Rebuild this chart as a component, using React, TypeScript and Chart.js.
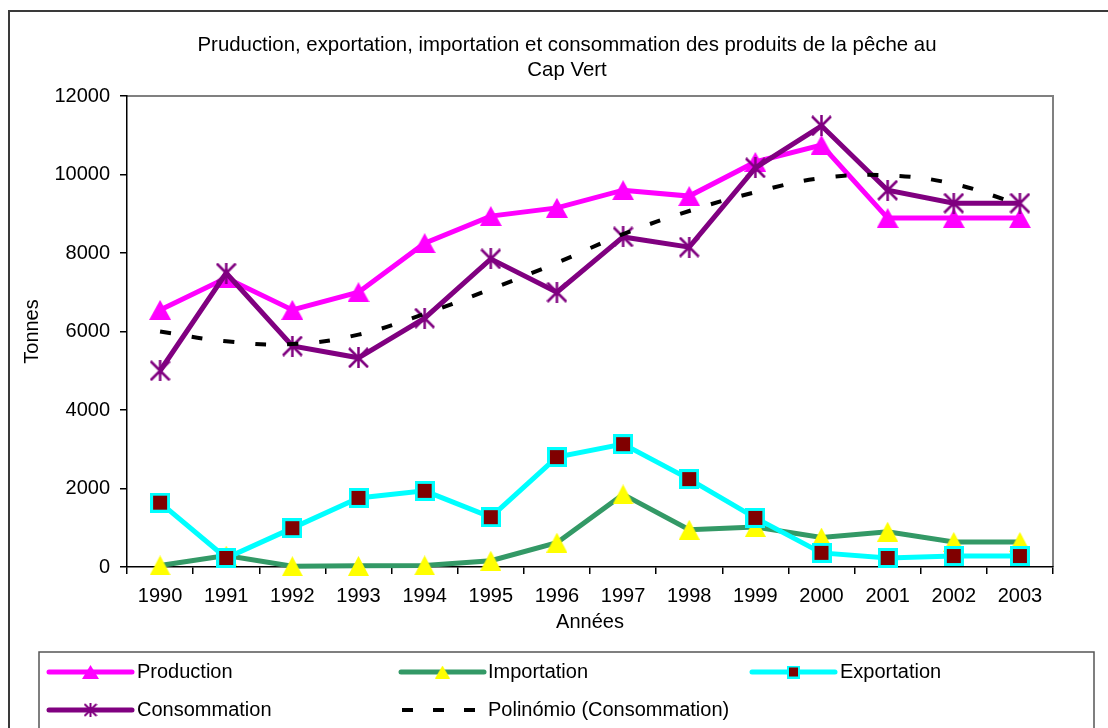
import React, { useEffect, useRef } from 'react';
import { Chart, registerables } from 'chart.js';

Chart.register(...registerables);

// ---------- Data ----------
const YEARS = ['1990', '1991', '1992', '1993', '1994', '1995', '1996', '1997', '1998', '1999', '2000', '2001', '2002', '2003'];
const PRODUCTION = [6550, 7360, 6550, 7000, 8250, 8940, 9150, 9600, 9450, 10320, 10750, 8890, 8890, 8890];
const IMPORTATION = [40, 290, 20, 30, 40, 160, 620, 1850, 950, 1020, 750, 900, 640, 640];
const EXPORTATION = [1640, 230, 990, 1760, 1940, 1270, 2800, 3130, 2240, 1250, 360, 230, 280, 280];
const CONSOMMATION = [5000, 7490, 5630, 5330, 6340, 7850, 7000, 8410, 8150, 10170, 11240, 9600, 9270, 9270];
const TREND_CONSOMMATION = [6000, 5750, 5680, 5920, 6450, 7080, 7750, 8480, 9070, 9550, 9910, 9980, 9760, 9230];

const SERIES_NAMES = ['Production', 'Importation', 'Exportation', 'Consommation', 'Polinómio (Consommation)'];
const TITLE_LINES = ['Pruduction, exportation, importation et consommation des produits de la pêche au', 'Cap Vert'];
const Y_TITLE = 'Tonnes';
const X_TITLE = 'Années';
const Y_MIN = 0;
const Y_MAX = 12000;
const Y_STEP = 2000;

// ---------- Styles ----------
const FONT = "'Liberation Sans', Arial, Helvetica, sans-serif";
const C_PROD = '#FF00FF';
const C_IMP = '#339966';
const C_IMP_MARK = '#FFFF00';
const C_EXP = '#00FFFF';
const C_EXP_MARK = '#800000';
const C_CONS = '#800080';
const C_TREND = '#000000';

function makeTriangle(w: number, h: number, fill: string) {
  const c = document.createElement('canvas');
  c.width = w; c.height = h;
  const ctx = c.getContext('2d')!;
  ctx.fillStyle = fill;
  ctx.beginPath();
  ctx.moveTo(w / 2, 0);
  ctx.lineTo(w, h);
  ctx.lineTo(0, h);
  ctx.closePath();
  ctx.fill();
  return c;
}

function makeSquare(s: number, fill: string, border: string, bw: number) {
  const c = document.createElement('canvas');
  c.width = s; c.height = s;
  const ctx = c.getContext('2d')!;
  ctx.fillStyle = border;
  ctx.fillRect(0, 0, s, s);
  ctx.fillStyle = fill;
  ctx.fillRect(bw, bw, s - 2 * bw, s - 2 * bw);
  return c;
}

function makeStar(s: number, color: string, lw: number) {
  const c = document.createElement('canvas');
  c.width = s; c.height = s;
  const ctx = c.getContext('2d')!;
  ctx.strokeStyle = color;
  ctx.lineWidth = lw;
  ctx.beginPath();
  ctx.moveTo(1, 1); ctx.lineTo(s - 1, s - 1);
  ctx.moveTo(s - 1, 1); ctx.lineTo(1, s - 1);
  ctx.moveTo(s / 2, 0); ctx.lineTo(s / 2, s);
  ctx.stroke();
  return c;
}

export default function App() {
  const ref = useRef<HTMLCanvasElement | null>(null);

  useEffect(() => {
    const canvas = ref.current;
    if (!canvas) return;

    const triProd = makeTriangle(22, 20, C_PROD);
    const triImp = makeTriangle(21, 20, C_IMP_MARK);
    const sqExp = makeSquare(20, C_EXP_MARK, C_EXP, 3);
    const starCons = makeStar(21, C_CONS, 2.5);

    const legendMarkers: (HTMLCanvasElement | null)[] = [
      makeTriangle(17, 14, C_PROD),
      makeTriangle(15, 13, C_IMP_MARK),
      makeSquare(13, C_EXP_MARK, C_EXP, 2),
      makeStar(14, C_CONS, 2),
      null,
    ];
    const legendColors = [C_PROD, C_IMP, C_EXP, C_CONS, C_TREND];
    const legendPos = [
      { x: 49, y: 672 },
      { x: 401, y: 672 },
      { x: 752, y: 672 },
      { x: 49, y: 710 },
      { x: 402, y: 710 },
    ];

    const decor = {
      id: 'decor',
      beforeDraw(chart: any) {
        const ctx = chart.ctx as CanvasRenderingContext2D;
        const W = chart.width;
        const H = chart.height;
        ctx.save();
        ctx.fillStyle = '#ffffff';
        ctx.fillRect(0, 0, W, H);
        // outer chart border
        ctx.strokeStyle = '#3a3a3a';
        ctx.lineWidth = 2;
        ctx.beginPath();
        ctx.moveTo(9, H + 5);
        ctx.lineTo(9, 11);
        ctx.lineTo(W + 5, 11);
        ctx.stroke();
        // title
        ctx.fillStyle = '#000';
        ctx.font = `20.4px ${FONT}`;
        ctx.textAlign = 'center';
        ctx.textBaseline = 'middle';
        TITLE_LINES.forEach((t, i) => ctx.fillText(t, 567, 45.5 + i * 25));
        // plot area border (top / right)
        const a = chart.chartArea;
        ctx.strokeStyle = '#808080';
        ctx.lineWidth = 2;
        ctx.beginPath();
        ctx.moveTo(a.left, a.top);
        ctx.lineTo(a.right, a.top);
        ctx.lineTo(a.right, a.bottom);
        ctx.stroke();
        // legend box
        ctx.strokeStyle = '#555';
        ctx.lineWidth = 1.5;
        ctx.strokeRect(39, 652, 1094 - 39, 120);
        // legend items
        SERIES_NAMES.forEach((name, i) => {
          const p = legendPos[i];
          const len = i === 4 ? 73 : 83;
          ctx.save();
          ctx.strokeStyle = legendColors[i];
          if (i === 4) {
            ctx.lineWidth = 4;
            ctx.lineCap = 'butt';
            ctx.setLineDash([11, 20]);
          } else {
            ctx.lineWidth = 5;
            ctx.lineCap = 'round';
          }
          ctx.beginPath();
          ctx.moveTo(p.x, p.y);
          ctx.lineTo(p.x + len, p.y);
          ctx.stroke();
          ctx.restore();
          const m = legendMarkers[i];
          if (m) {
            ctx.drawImage(m, p.x + 41.5 - m.width / 2, p.y - m.height / 2);
          }
          ctx.fillStyle = '#000';
          ctx.font = `20px ${FONT}`;
          ctx.textAlign = 'left';
          ctx.textBaseline = 'middle';
          ctx.fillText(name, i === 0 || i === 3 ? 137 : i === 2 ? 840 : 488, p.y);
        });
        ctx.restore();
      },
    };

    const chart = new Chart(canvas, {
      type: 'line',
      data: {
        labels: YEARS,
        datasets: [
          {
            label: SERIES_NAMES[4],
            data: TREND_CONSOMMATION,
            borderColor: C_TREND,
            borderWidth: 4,
            borderDash: [11, 21],
            borderCapStyle: 'butt',
            pointRadius: 0,
            tension: 0.4,
            fill: false,
            order: 0,
            clip: false,
          },
          {
            label: SERIES_NAMES[3],
            data: CONSOMMATION,
            borderColor: C_CONS,
            borderWidth: 5,
            pointStyle: starCons as any,
            pointRadius: 10,
            tension: 0,
            fill: false,
            order: 1,
            clip: false,
          },
          {
            label: SERIES_NAMES[2],
            data: EXPORTATION,
            borderColor: C_EXP,
            borderWidth: 5,
            pointStyle: sqExp as any,
            pointRadius: 10,
            tension: 0,
            fill: false,
            order: 2,
            clip: false,
          },
          {
            label: SERIES_NAMES[1],
            data: IMPORTATION,
            borderColor: C_IMP,
            borderWidth: 5,
            pointStyle: triImp as any,
            pointRadius: 10,
            tension: 0,
            fill: false,
            order: 3,
            clip: false,
          },
          {
            label: SERIES_NAMES[0],
            data: PRODUCTION,
            borderColor: C_PROD,
            borderWidth: 5,
            pointStyle: triProd as any,
            pointRadius: 10,
            tension: 0,
            fill: false,
            order: 4,
            clip: false,
          },
        ],
      },
      options: {
        responsive: false,
        maintainAspectRatio: false,
        animation: false,
        events: [],
        layout: {
          padding: { left: 9, right: 55, top: 96, bottom: 76 },
        },
        plugins: {
          legend: { display: false },
          title: { display: false },
          tooltip: { enabled: false },
        },
        scales: {
          x: {
            type: 'category',
            offset: true,
            grid: {
              display: true,
              offset: true,
              drawOnChartArea: false,
              drawTicks: true,
              tickLength: 7,
              color: '#000',
              lineWidth: 1.5,
            },
            border: { display: true, color: '#000', width: 1.5 },
            ticks: {
              color: '#000',
              font: { family: FONT, size: 20 },
              padding: 10,
              maxRotation: 0,
              autoSkip: false,
            },
            title: {
              display: true,
              text: X_TITLE,
              color: '#000',
              font: { family: FONT, size: 20 },
              padding: { top: 0, bottom: 18 },
            },
            afterFit: (scale: any) => {
              scale.height = 85;
            },
          },
          y: {
            min: Y_MIN,
            max: Y_MAX,
            grid: {
              display: true,
              drawOnChartArea: false,
              drawTicks: true,
              tickLength: 7,
              color: '#000',
              lineWidth: 1.5,
            },
            border: { display: true, color: '#000', width: 1.5 },
            ticks: {
              stepSize: Y_STEP,
              color: '#000',
              font: { family: FONT, size: 20 },
              padding: 10,
              callback: (v: any) => String(v),
            },
            title: {
              display: true,
              text: Y_TITLE,
              color: '#000',
              font: { family: FONT, size: 20 },
              padding: { top: 11, bottom: 0 },
            },
            afterFit: (scale: any) => {
              scale.width = 118;
            },
          },
        },
      },
      plugins: [decor],
    } as any);

    return () => {
      chart.destroy();
    };
  }, []);

  return (
    <div style={{ position: 'absolute', left: 0, top: 0, width: 1108, height: 728, overflow: 'hidden', background: '#fff' }}>
      <canvas ref={ref} width={1108} height={728} style={{ display: 'block', width: 1108, height: 728 }} />
    </div>
  );
}
